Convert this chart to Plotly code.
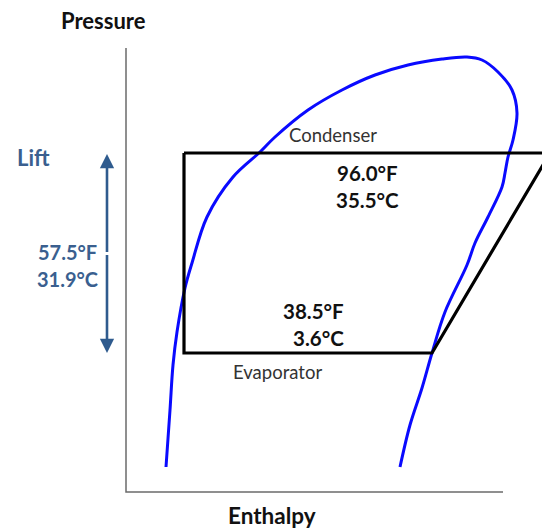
import plotly.graph_objects as go

# Saturation dome (enthalpy, pressure) in chart units (pixel-like)
dome_h = [166, 170, 173, 177, 185, 192, 207, 233, 260, 275, 308, 342, 375, 408, 442, 467, 482,
          498, 512, 517, 513, 508, 505, 502, 488, 475, 467, 445, 432, 422, 410, 400]
dome_p = [467, 410, 365, 332, 288, 263, 217, 177, 152, 137, 110, 90, 75, 65, 59, 57, 60,
          72, 90, 113, 140, 157, 173, 187, 217, 243, 265, 312, 353, 388, 425, 467]

# Refrigeration cycle (enthalpy, pressure)
cycle_h = [184, 550, 432, 184, 184]
cycle_p = [153, 153, 353, 353, 153]

# Axes frame
axis_h = [126, 126, 503]
axis_p = [48, 492, 492]

# Lift arrow
lift_h = 107
lift_top = 154
lift_bottom = 353

W, H = 550, 529
OFF = 8  # page body margin
def py(vals):
    return [H - v for v in vals]

fig = go.Figure()
fig.add_trace(go.Scatter(x=axis_h, y=py(axis_p), mode="lines",
                         line=dict(color="#6b6b6b", width=1.5), hoverinfo="skip"))
fig.add_trace(go.Scatter(x=dome_h, y=py(dome_p), mode="lines",
                         line=dict(color="#0a0aff", width=3, shape="spline", smoothing=1.0),
                         hoverinfo="skip"))
fig.add_trace(go.Scatter(x=cycle_h, y=py(cycle_p), mode="lines",
                         line=dict(color="#000000", width=3.2), hoverinfo="skip"))

arrow_col = "#2f5b8e"
mid = (lift_top + lift_bottom) / 2
for tip in (lift_top, lift_bottom):
    fig.add_annotation(x=lift_h, y=H - tip, ax=lift_h, ay=H - mid, xref="x", yref="y",
                       axref="x", ayref="y", showarrow=True, arrowhead=2, arrowsize=1.1,
                       arrowwidth=2.6, arrowcolor=arrow_col, text="")

font_main = "Lato, 'Open Sans', sans-serif"
texts = [
    (103, 20, "<b>Pressure</b>", 22, "#111111"),
    (272, 515, "<b>Enthalpy</b>", 22.5, "#111111"),
    (33, 157, "<b>Lift</b>", 22, "#3a5f8f"),
    (67, 252, "<b>57.5°F</b>", 20, "#3a5f8f"),
    (67, 279, "<b>31.9°C</b>", 20, "#3a5f8f"),
    (333, 135, "Condenser", 18.5, "#333333"),
    (367, 173, "<b>96.0°F</b>", 20.5, "#111111"),
    (367, 200, "<b>35.5°C</b>", 20.5, "#111111"),
    (313, 311, "<b>38.5°F</b>", 20.5, "#111111"),
    (318, 338, "<b>3.6°C</b>", 20.5, "#111111"),
    (277, 372, "Evaporator", 18.5, "#333333"),
]
for x, y, t, s, c in texts:
    fig.add_annotation(x=x, y=H - y, text=t, showarrow=False, xref="x", yref="y",
                       font=dict(family=font_main, size=s, color=c),
                       xanchor="center", yanchor="middle")

fig.update_layout(
    width=W - OFF, height=H - OFF, margin=dict(l=0, r=0, t=0, b=0),
    paper_bgcolor="white", plot_bgcolor="white", showlegend=False,
    xaxis=dict(range=[OFF, W], visible=False, fixedrange=True),
    yaxis=dict(range=[0, H - OFF], visible=False, fixedrange=True),
)
fig.write_html("out.html")
